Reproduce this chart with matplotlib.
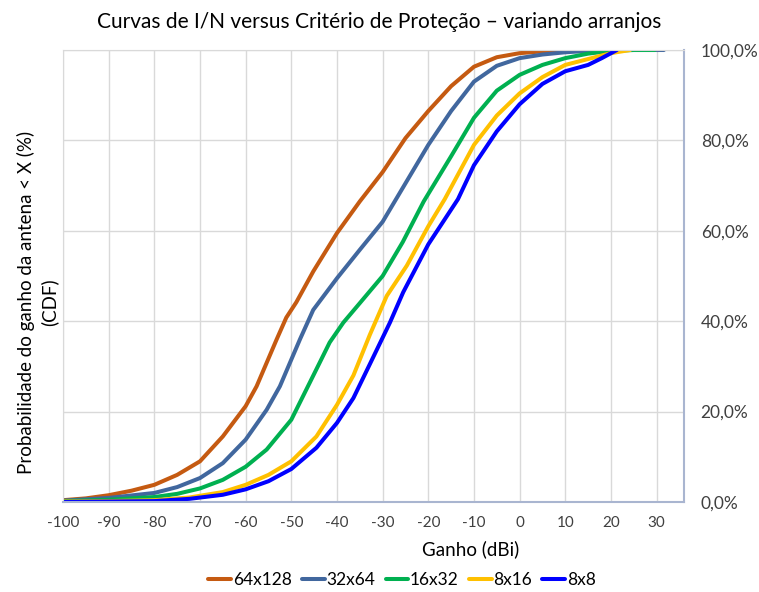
import matplotlib
matplotlib.use("Agg")
from matplotlib import pyplot as plt
from matplotlib.ticker import FuncFormatter

plt.rcParams['font.family'] = ['Lato', 'DejaVu Sans']

# curves: gain (dBi) vs CDF (%)
x_64x128 = [-100, -95, -90, -85, -80, -75, -70, -65, -60, -57.6, -55.4, -53.2,
            -51.1, -48.9, -45.2, -40, -35, -30, -25, -20, -15, -10, -5, 0, 5, 10, 15, 20]
y_64x128 = [0.4, 0.8, 1.5, 2.5, 3.8, 6.0, 9.0, 14.5, 21.2, 25.6, 30.8, 36.0,
            40.8, 44.2, 51.0, 59.5, 66.5, 73.0, 80.5, 86.5, 92.0, 96.3, 98.4, 99.3, 99.7, 99.9, 100.0, 100.0]

x_32x64 = [-100, -90, -80, -75, -70, -65, -60, -55.4, -52.5, -50.3, -48.1, -45.2, -40,
           -35, -30, -25, -20, -15, -10, -5, 0, 5, 10, 15, 20, 25, 31.6]
y_32x64 = [0.3, 0.9, 2.0, 3.3, 5.3, 8.6, 13.8, 20.4, 25.6, 30.8, 36.0, 42.5, 49.5,
           55.8, 62.0, 70.5, 79.0, 86.5, 93.0, 96.5, 98.2, 99.0, 99.5, 99.8, 100.0, 100.0, 100.0]

x_16x32 = [-100, -90, -80, -75, -70, -65, -60, -55.4, -50, -46.7, -43.8, -41.6, -38.6,
           -35, -30, -25.6, -21, -15, -10, -5, 0, 5, 10, 15, 20, 25, 29.6]
y_16x32 = [0.2, 0.5, 1.1, 1.8, 3.0, 4.9, 7.8, 11.6, 18.2, 24.9, 30.8, 35.3, 39.7,
           44.0, 50.0, 57.5, 66.5, 76.5, 85.0, 91.0, 94.5, 96.7, 98.2, 99.2, 99.8, 100.0, 100.0]

x_8x16 = [-100, -90, -80, -72.3, -65, -60, -55, -50, -44.5, -40, -36.4, -32.8, -29.1,
          -24.7, -20, -16.4, -10, -5, 0, 5, 10, 15, 20, 24.2]
y_8x16 = [0.1, 0.2, 0.4, 1.0, 2.2, 3.8, 6.0, 9.0, 14.5, 21.5, 28.0, 37.0, 45.6,
          52.3, 61.0, 67.0, 79.0, 85.5, 90.4, 94.0, 96.7, 98.0, 99.3, 100.0]

x_8x8 = [-100, -90, -80, -72.3, -65, -60, -55, -50, -44.5, -40, -36.4, -32.8, -28.4,
         -25.5, -20, -13.5, -10, -5, 0, 5, 10, 15, 18, 21.3]
y_8x8 = [0.0, 0.1, 0.2, 0.7, 1.6, 2.8, 4.6, 7.3, 12.0, 17.5, 23.0, 30.5, 39.7,
         46.4, 57.0, 67.0, 74.5, 82.0, 88.0, 92.5, 95.3, 96.7, 98.2, 100.0]

series_names = ['64x128', '32x64', '16x32', '8x16', '8x8']
series_x = [x_64x128, x_32x64, x_16x32, x_8x16, x_8x8]
series_y = [y_64x128, y_32x64, y_16x32, y_8x16, y_8x8]
colors = ['#C55A11', '#41679E', '#00B050', '#FFC000', '#0000FF']

x_ticks = list(range(-100, 31, 10))
x_ticklabels = [str(v) if v >= 0 else '-%d' % (-v) for v in x_ticks]
y_ticks = [0, 20, 40, 60, 80, 100]

fig = plt.figure(figsize=(7.59, 5.92), dpi=100)
ax = fig.add_axes([63/759, 1 - 502/592, (684 - 63)/759, (502 - 50)/592])

for xs, ys, name, c in zip(series_x, series_y, series_names, colors):
    ax.plot(xs, [v/100. for v in ys], color=c, linewidth=2.9, label=name,
            solid_capstyle='round', solid_joinstyle='round')

ax.set_xlim([-100., 36.])
ax.set_ylim([0., 1.0])

ax.set_xticks(x_ticks)
ax.set_xticklabels(x_ticklabels)
ax.set_yticks([v/100. for v in y_ticks])
ax.yaxis.tick_right()
ax.yaxis.set_major_formatter(FuncFormatter(lambda v, p: ('%.1f%%' % (v*100)).replace('.', ',')))
ax.tick_params(axis='x', length=0, labelsize=11, pad=10, colors='#404040')
ax.tick_params(axis='y', length=0, labelsize=12.5, pad=12, colors='#404040')

ax.grid(True, color='#D9D9D9', linewidth=1.0)
ax.set_axisbelow(True)
for side in ['left', 'top']:
    ax.spines[side].set_color('#D9D9D9')
for side in ['bottom', 'right']:
    ax.spines[side].set_color('#A9B5D0')
    ax.spines[side].set_linewidth(1.5)

fig.text(0.5, 1 - 22/592, 'Curvas de I/N versus Critério de Proteção – variando arranjos',
         ha='center', va='center', fontsize=15, color='#000000')
fig.text(471/759, 1 - 549/592, 'Ganho (dBi)', ha='center', va='center', fontsize=13.5)
fig.text(38/759, 1 - 302/592, 'Probabilidade do ganho da antena < X (%)\n(CDF)',
         ha='center', va='center', rotation=90, fontsize=13.5, linespacing=1.35)

fig.legend(loc='center', bbox_to_anchor=(402/759, 1 - 580/592), ncol=5, frameon=False,
           fontsize=12.5, handlelength=1.3, handletextpad=0.1, columnspacing=0.6)

fig.savefig('out.png', dpi=100, facecolor='white')
